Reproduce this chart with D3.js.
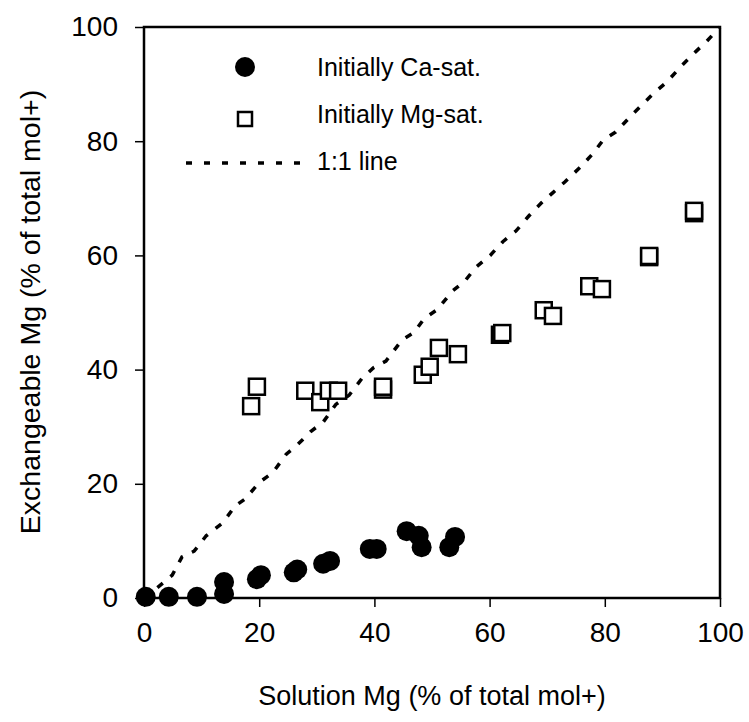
<!DOCTYPE html>
<html>
<head>
<meta charset="utf-8">
<script src="https://cdn.jsdelivr.net/npm/d3@7"></script>
<style>
  body { margin: 0; background: #fff; }
  text { font-family: "Liberation Sans", Arial, sans-serif; fill: #000; }
</style>
</head>
<body>
<div id="chart"></div>
<script>
// Initially Ca-saturated (solution Mg, exchangeable Mg)
var caSatX = [0.3, 4.3, 9.2, 13.9, 13.9, 19.6, 20.3, 26.0, 26.6, 31.1, 32.3, 39.2, 40.4, 45.6, 47.7, 48.2, 53.0, 54.0];
var caSatY = [0.2, 0.2, 0.2, 0.7, 2.8, 3.3, 4.0, 4.5, 5.0, 6.0, 6.5, 8.6, 8.6, 11.7, 10.9, 8.9, 8.9, 10.7];

// Initially Mg-saturated
var mgSatX = [18.6, 19.6, 28.0, 30.6, 32.1, 33.7, 41.5, 41.5, 48.4, 49.6, 51.2, 54.5, 61.8, 62.2, 69.4, 71.0, 77.3, 79.5, 87.7, 87.7, 95.5, 95.5];
var mgSatY = [33.6, 37.0, 36.3, 34.3, 36.3, 36.3, 36.5, 37.0, 39.1, 40.5, 43.8, 42.7, 46.1, 46.4, 50.4, 49.4, 54.6, 54.1, 59.7, 59.9, 67.4, 67.8];

// 1:1 line as drawn (hand-traced, slightly wavy)
var oneX = [0, 2.3, 4.9, 6.6, 8.7, 10.8, 13.7, 15.8, 17.5, 20.1, 22.4, 24.7, 26.4, 29.0, 31.1, 33.3, 35.6, 37.8, 39.8, 42.0, 44.8, 46.9, 48.6, 50.9, 53.6, 55.7, 57.6, 60.1, 62.3, 64.6, 66.8, 69.0, 71.0, 73.1, 76.0, 78.0, 79.7, 81.9, 84.7, 86.8, 88.7, 90.8, 93.4, 95.7, 97.7, 100];
var oneY = [0, 1.8, 4.0, 7.2, 8.2, 10.9, 13.2, 16.1, 17.3, 20.3, 22.0, 25.2, 26.6, 29.2, 30.8, 33.9, 35.5, 38.4, 40.3, 41.5, 45.2, 46.5, 48.9, 50.5, 53.8, 55.5, 57.9, 60.0, 62.4, 64.3, 66.9, 69.2, 71.0, 72.9, 75.7, 77.9, 80.2, 81.6, 84.6, 86.7, 88.6, 90.4, 93.3, 95.6, 97.5, 100];

var ticks = [0, 20, 40, 60, 80, 100];

var width = 749, height = 722;
var margin = { top: 27, right: 29, bottom: 124, left: 144 };

var svg = d3.select("#chart").append("svg")
    .attr("width", width)
    .attr("height", height);

var x = d3.scaleLinear().domain([0, 100]).range([margin.left, width - margin.right]);
var y = d3.scaleLinear().domain([0, 100]).range([height - margin.bottom, margin.top]);

// 1:1 line
var oneData = oneX.map(function (d, i) { return [d, oneY[i]]; });
var line = d3.line()
    .x(function (d) { return x(d[0]); })
    .y(function (d) { return y(d[1]); });

svg.append("path")
    .datum(oneData)
    .attr("d", line)
    .attr("fill", "none")
    .attr("stroke", "#000")
    .attr("stroke-width", 3.5)
    .attr("stroke-dasharray", "7,10");

// squares
var sq = 16;
svg.append("g").selectAll("rect")
    .data(mgSatX.map(function (d, i) { return [d, mgSatY[i]]; }))
    .enter().append("rect")
    .attr("x", function (d) { return x(d[0]) - sq / 2; })
    .attr("y", function (d) { return y(d[1]) - sq / 2; })
    .attr("width", sq)
    .attr("height", sq)
    .attr("fill", "#fff")
    .attr("stroke", "#000")
    .attr("stroke-width", 2.5);

// circles
svg.append("g").selectAll("circle")
    .data(caSatX.map(function (d, i) { return [d, caSatY[i]]; }))
    .enter().append("circle")
    .attr("cx", function (d) { return x(d[0]); })
    .attr("cy", function (d) { return y(d[1]); })
    .attr("r", 10)
    .attr("fill", "#000");

// axes
var xAxis = svg.append("g")
    .attr("transform", "translate(0," + (height - margin.bottom) + ")")
    .call(d3.axisBottom(x).tickValues(ticks).tickSize(9).tickPadding(20));
var yAxis = svg.append("g")
    .attr("transform", "translate(" + margin.left + ",0)")
    .call(d3.axisLeft(y).tickValues(ticks).tickSize(9).tickPadding(17));

[xAxis, yAxis].forEach(function (a) {
  a.select(".domain").remove();
  a.selectAll("line").attr("stroke", "#000").attr("stroke-width", 1.5);
  a.selectAll("text").attr("font-size", 28).attr("font-family", "Liberation Sans, Arial, sans-serif");
});
xAxis.selectAll("text").attr("dy", "0.55em");

// plot frame
svg.append("rect")
    .attr("x", x(0))
    .attr("y", y(100))
    .attr("width", x(100) - x(0))
    .attr("height", y(0) - y(100))
    .attr("fill", "none")
    .attr("stroke", "#000")
    .attr("stroke-width", 2.5);

// axis titles
svg.append("text")
    .attr("x", 432)
    .attr("y", 705)
    .attr("text-anchor", "middle")
    .attr("font-size", 27)
    .text("Solution Mg (% of total mol+)");

svg.append("text")
    .attr("transform", "translate(40,312)rotate(-90)")
    .attr("text-anchor", "middle")
    .attr("font-size", 28.5)
    .text("Exchangeable Mg (% of total mol+)");

// legend
var lg = svg.append("g");
lg.append("circle").attr("cx", 245).attr("cy", 67).attr("r", 10).attr("fill", "#000");
lg.append("rect").attr("x", 238).attr("y", 112).attr("width", 14).attr("height", 14)
    .attr("fill", "#fff").attr("stroke", "#000").attr("stroke-width", 2.5);
lg.append("line").attr("x1", 186).attr("x2", 305).attr("y1", 163).attr("y2", 163)
    .attr("stroke", "#000").attr("stroke-width", 3.5).attr("stroke-dasharray", "6,12");
var labels = ["Initially Ca-sat.", "Initially Mg-sat.", "1:1 line"];
lg.selectAll(".lab").data(labels).enter().append("text")
    .attr("x", 317)
    .attr("y", function (d, i) { return 67 + i * 47; })
    .attr("dy", "0.36em")
    .attr("font-size", 25)
    .text(function (d) { return d; });
</script>
</body>
</html>
